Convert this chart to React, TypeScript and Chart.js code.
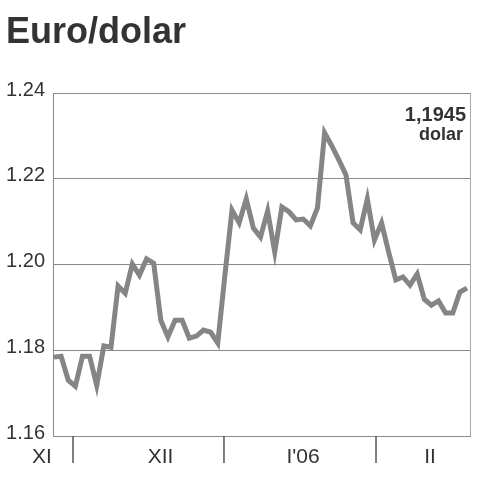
import { useEffect, useRef } from "react";
import { Chart, registerables } from "chart.js";

Chart.register(...registerables);

// Daily EUR/USD rate, mid-November 2005 to mid-February 2006 (trading days)
const rates = [
  1.1784, 1.1786, 1.173, 1.1716, 1.1786, 1.1786, 1.1718, 1.181, 1.1807, 1.195,
  1.1933, 1.2001, 1.1975, 1.2013, 1.2003, 1.187, 1.1831, 1.187, 1.187, 1.1828,
  1.1833, 1.1847, 1.1842, 1.1817, 1.1975, 1.2127, 1.2097, 1.2153, 1.2085, 1.2064,
  1.2125, 1.2029, 1.2134, 1.2123, 1.2104, 1.2106, 1.209, 1.2132, 1.2307, 1.2277,
  1.2244, 1.2209, 1.2097, 1.2081, 1.2153, 1.2057, 1.2097, 1.2029, 1.1964, 1.1971,
  1.1952, 1.1978, 1.1919, 1.1905, 1.1915, 1.1887, 1.1887, 1.1936, 1.1945,
];
const yTicks = [1.16, 1.18, 1.2, 1.22, 1.24];
const monthLabels = ["XI", "XII", "I'06", "II"];
const monthLabelAt = [-1.69, 14.96, 34.97, 52.8];
const monthStarts = [2.67, 23.87, 45.22];
const titleText = "Euro/dolar";
const lastValueText = "1,1945";
const unitText = "dolar";

const FONT = "'Liberation Sans', Arial, sans-serif";

export default function App() {
  const ref = useRef<HTMLCanvasElement | null>(null);

  useEffect(() => {
    if (!ref.current) return;
    const decor = {
      id: "decor",
      afterDraw(chart: any) {
        const ctx = chart.ctx;
        const a = chart.chartArea;
        const xs = chart.scales.x;
        ctx.save();
        // right frame line
        ctx.strokeStyle = "#a8a8a8";
        ctx.lineWidth = 1;
        ctx.beginPath();
        ctx.moveTo(Math.round(a.right) + 0.5, a.top);
        ctx.lineTo(Math.round(a.right) + 0.5, a.bottom);
        ctx.stroke();
        // month separators
        ctx.strokeStyle = "#555";
        ctx.lineWidth = 1.5;
        monthStarts.forEach((v) => {
          const x = xs.getPixelForValue(v);
          ctx.beginPath();
          ctx.moveTo(x, a.bottom);
          ctx.lineTo(x, a.bottom + 27);
          ctx.stroke();
        });
        // month labels
        ctx.fillStyle = "#333";
        ctx.font = `21px ${FONT}`;
        ctx.textAlign = "center";
        ctx.textBaseline = "alphabetic";
        monthLabels.forEach((t, i) => {
          ctx.fillText(t, xs.getPixelForValue(monthLabelAt[i]), 463);
        });
        // title
        ctx.font = `bold 36px ${FONT}`;
        ctx.textAlign = "left";
        ctx.fillStyle = "#333";
        ctx.fillText(titleText, 6, 43);
        // last value annotation
        ctx.textAlign = "right";
        ctx.font = `bold 20px ${FONT}`;
        ctx.fillText(lastValueText, 466, 121);
        ctx.font = `bold 18px ${FONT}`;
        ctx.fillText(unitText, 463, 140);
        ctx.restore();
      },
    };

    const chart = new Chart(ref.current, {
      type: "line",
      data: {
        datasets: [
          {
            data: rates.map((v, i) => ({ x: i, y: v })),
            borderColor: "#858585",
            borderWidth: 5,
            pointRadius: 0,
            tension: 0,
            fill: false,
          },
        ],
      },
      options: {
        responsive: false,
        animation: false,
        layout: { padding: { top: 93, right: 10, left: 0, bottom: 0 } },
        plugins: {
          legend: { display: false },
          tooltip: { enabled: false },
          title: { display: false },
        },
        scales: {
          x: {
            type: "linear",
            min: -0.14,
            max: 58.42,
            grid: { display: false },
            ticks: { display: false },
            border: { display: true, color: "#8a8a8a", width: 1 },
            afterFit: (s: any) => {
              s.height = 44;
            },
          },
          y: {
            min: 1.16,
            max: 1.24,
            afterBuildTicks: (s: any) => {
              s.ticks = yTicks.map((v) => ({ value: v }));
            },
            afterFit: (s: any) => {
              s.width = 53;
            },
            grid: { color: "#8a8a8a", lineWidth: 1, drawTicks: false },
            border: { display: true, color: "#8a8a8a", width: 1 },
            ticks: {
              padding: 8,
              labelOffset: -3,
              color: "#333",
              font: { family: FONT, size: 20 },
              callback: (v: any) => Number(v).toFixed(2),
            },
          },
        },
      },
      plugins: [decor],
    });
    return () => chart.destroy();
  }, []);

  return (
    <div style={{ position: "absolute", left: 0, top: 0, width: 480, height: 480 }}>
      <canvas ref={ref} width={480} height={480} style={{ display: "block" }} />
    </div>
  );
}
